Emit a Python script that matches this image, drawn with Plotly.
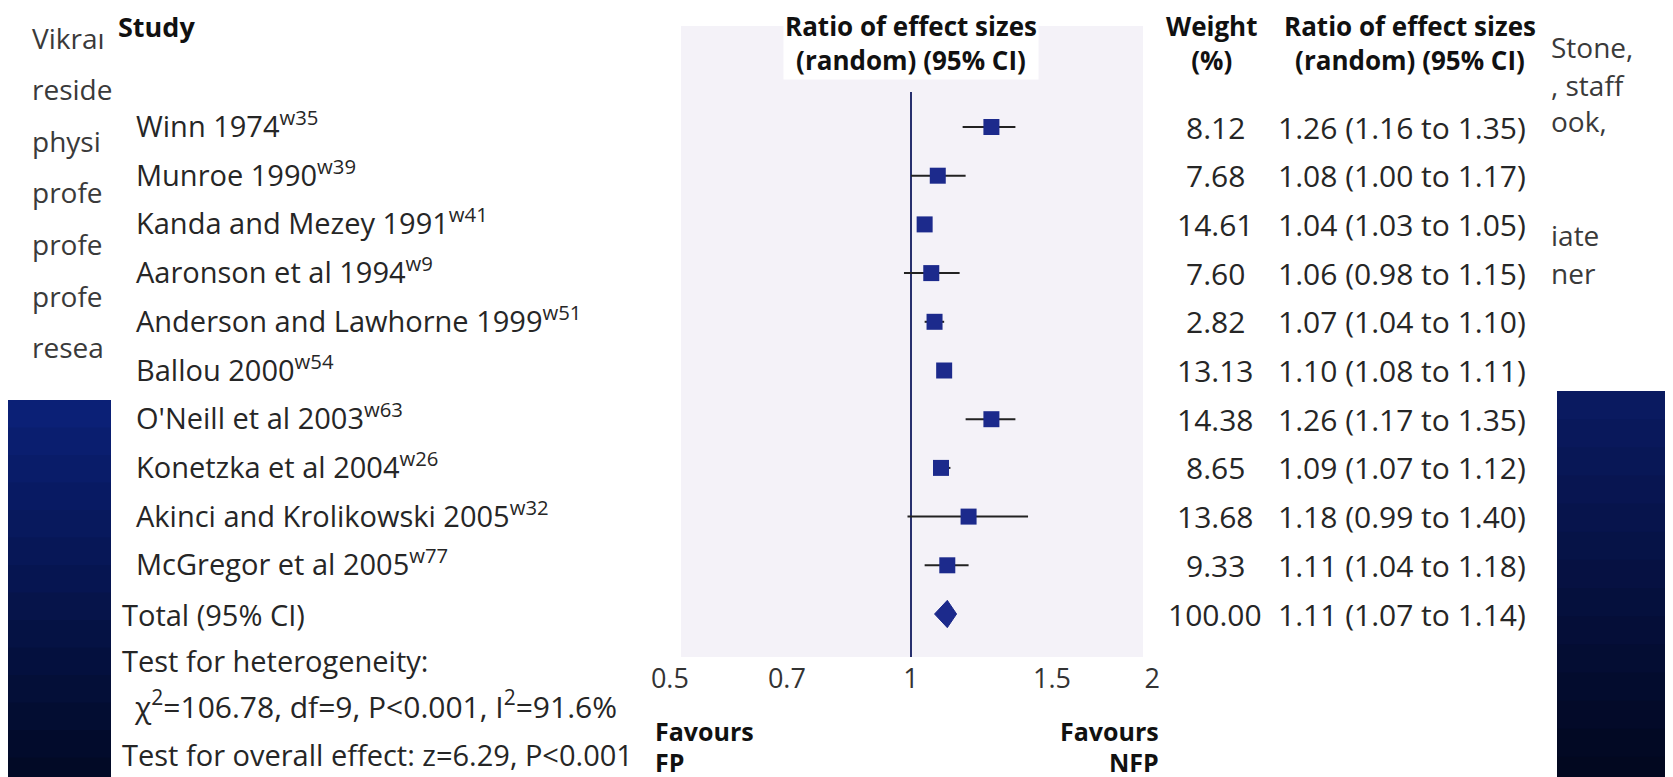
import plotly.graph_objects as go

# ---------------- data ----------------
studies = ["Winn 1974", "Munroe 1990", "Kanda and Mezey 1991", "Aaronson et al 1994",
           "Anderson and Lawhorne 1999", "Ballou 2000", "O'Neill et al 2003",
           "Konetzka et al 2004", "Akinci and Krolikowski 2005", "McGregor et al 2005"]
refs = ["w35", "w39", "w41", "w9", "w51", "w54", "w63", "w26", "w32", "w77"]
weights = [8.12, 7.68, 14.61, 7.60, 2.82, 13.13, 14.38, 8.65, 13.68, 9.33]
ratio = [1.26, 1.08, 1.04, 1.06, 1.07, 1.10, 1.26, 1.09, 1.18, 1.11]
ci_low = [1.16, 1.00, 1.03, 0.98, 1.04, 1.08, 1.17, 1.07, 0.99, 1.04]
ci_high = [1.35, 1.17, 1.05, 1.15, 1.10, 1.11, 1.35, 1.12, 1.40, 1.18]

total_label = "Total (95% CI)"
total_weight = 100.00
total_ratio = 1.11
total_low = 1.07
total_high = 1.14

tick_vals = [0.5, 0.7, 1, 1.5, 2]
tick_labels = ["0.5", "0.7", "1", "1.5", "2"]

header_study = "Study"
header_effect = "Ratio of effect sizes<br>(random) (95% CI)"
header_weight = "Weight<br>(%)"

heterogeneity_title = "Test for heterogeneity:"
heterogeneity = "χ<sup>2</sup>=106.78, df=9, P&lt;0.001, I<sup>2</sup>=91.6%"
overall = "Test for overall effect: z=6.29, P&lt;0.001"

left_fragments = ["Vikraı", "reside", "physi", "profe", "profe", "profe", "resea"]
right_fragments = ["Stone,", ", staff", "ook,", "iate", "ner"]

# ---------------- geometry / style ----------------
W, H = 1673, 777
X_ONE_PX = 903          # pixel of ratio = 1
PX_PER_DEC = 801        # pixels per decade on the log axis
ROW0_PX = 119           # pixel row of the first study
ROW_PX = 48.7           # row spacing

FONT = "Open Sans"
NAVY = "#1c2a8c"
TXT = "#262626"


def px(x):
    return x / W


def py(y):
    return 1 - y / H


xr = [(0 - X_ONE_PX) / PX_PER_DEC, (W - X_ONE_PX) / PX_PER_DEC]
yr = [(H - ROW0_PX) / ROW_PX, (0 - ROW0_PX) / ROW_PX]

rows = list(range(len(studies)))
total_row = len(studies)

fig = go.Figure()

# line of no effect
fig.add_trace(go.Scatter(
    x=[1, 1], y=[(84 - ROW0_PX) / ROW_PX, (649 - ROW0_PX) / ROW_PX],
    mode="lines", line=dict(color="#27306e", width=2), hoverinfo="skip", showlegend=False))

# study estimates with CIs
fig.add_trace(go.Scatter(
    x=ratio, y=rows, mode="markers",
    marker=dict(symbol="square", size=16, color=NAVY),
    error_x=dict(type="data", symmetric=False,
                 array=[h - r for h, r in zip(ci_high, ratio)],
                 arrayminus=[r - l for r, l in zip(ratio, ci_low)],
                 color="#222222", thickness=2, width=0),
    showlegend=False, hoverinfo="skip"))

# pooled diamond
dh = 0.28
fig.add_trace(go.Scatter(
    x=[total_low, total_ratio, total_high, total_ratio, total_low],
    y=[total_row, total_row - dh, total_row, total_row + dh, total_row],
    mode="lines", fill="toself", fillcolor=NAVY, line=dict(color=NAVY, width=1),
    showlegend=False, hoverinfo="skip"))

shapes = []
# shaded plot panel
shapes.append(dict(type="rect", xref="paper", yref="paper", x0=px(673), x1=px(1135),
                   y0=py(649), y1=py(18), fillcolor="#f4f2f8", line=dict(width=0), layer="below"))


def block(x0, x1, y0, y1, top, bottom, n=14):
    def hx(c):
        return [int(c[i:i + 2], 16) for i in (1, 3, 5)]
    a, b = hx(top), hx(bottom)
    for k in range(n):
        t = k / (n - 1)
        c = "#%02x%02x%02x" % tuple(int(a[j] + (b[j] - a[j]) * t) for j in range(3))
        ya = y0 + (y1 - y0) * k / n
        shapes.append(dict(type="rect", xref="paper", yref="paper", x0=px(x0), x1=px(x1),
                           y0=py(y1), y1=py(ya), fillcolor=c, line=dict(width=0), layer="below"))


block(0, 103, 392, 777, "#0b2076", "#020a26")
block(1549, 1673, 383, 777, "#0a1a60", "#020820")

ann = []


def text(t, x, y, size, anchor="left", bold=False, yref="paper", color=TXT, bg=None,
         yshift=0, yanchor="middle"):
    d = dict(text=("<b>%s</b>" % t) if bold else t, x=px(x), y=y, xref="paper", yref=yref,
             xanchor=anchor, yanchor=yanchor, showarrow=False, yshift=yshift,
             font=dict(family=FONT, size=size, color=color), align="center" if anchor == "center" else anchor)
    if bg:
        d["bgcolor"] = bg
    ann.append(d)


# headers (two-line blocks hung from the top edge)
HS = 26
text(header_study, 108, 1.0, 27, bold=True, color="#111", yanchor="top", yshift=2)
text(header_effect.replace("<br>", "</b><br><b>"), X_ONE_PX, 1.0, HS, anchor="center", bold=True,
     color="#111", bg="white", yanchor="top", yshift=2)
text(header_weight.replace("<br>", "</b><br><b>"), 1204, 1.0, HS, anchor="center", bold=True,
     color="#111", yanchor="top", yshift=2)
text(header_effect.replace("<br>", "</b><br><b>"), 1402, 1.0, HS, anchor="center", bold=True,
     color="#111", yanchor="top", yshift=2)

# rows
NS = 29
VS = 30
for i, (s, r) in enumerate(zip(studies, refs)):
    text("%s<sup>%s</sup>" % (s, r), 126, i, NS, yref="y", yshift=3)
    text("%.2f" % weights[i], 1207, i, VS, anchor="center", yref="y")
    text("%.2f (%.2f to %.2f)" % (ratio[i], ci_low[i], ci_high[i]), 1268, i, VS, yref="y")

text(total_label, 112, total_row, NS, yref="y")
text("%.2f" % total_weight, 1207, total_row, VS, anchor="center", yref="y")
text("%.2f (%.2f to %.2f)" % (total_ratio, total_low, total_high), 1268, total_row, VS, yref="y")

# footer statistics
text(heterogeneity_title, 112, py(652), NS)
text(heterogeneity, 124, py(699), 30, yshift=2)
text(overall, 112, py(746), NS)

# favours labels
FS = 25
text("Favours", 645, py(723), FS, bold=True, color="#111")
text("FP", 645, py(754), FS, bold=True, color="#111")
text("Favours", 1153, py(723), FS, anchor="right", bold=True, color="#111")
text("NFP", 1153, py(754), FS, anchor="right", bold=True, color="#111")

# bleed-through page fragments
for k, t in enumerate(left_fragments):
    text(t, 22, py(30 + 51.5 * k), 28, color="#3a3a3a")
for t, yy in zip(right_fragments, [39, 77, 113, 227, 265]):
    text(t, 1541, py(yy), 28, color="#3a3a3a")

fig.update_layout(
    width=W, height=H, margin=dict(l=0, r=0, t=0, b=0),
    paper_bgcolor="white", plot_bgcolor="rgba(0,0,0,0)",
    shapes=shapes, annotations=ann, showlegend=False,
    xaxis=dict(type="log", range=xr, tickvals=tick_vals, ticktext=tick_labels,
               showgrid=False, zeroline=False, showline=False, ticks="",
               anchor="free", position=py(652),
               tickfont=dict(family=FONT, size=27, color="#333")),
    yaxis=dict(range=yr, visible=False, showgrid=False, zeroline=False),
)

fig.write_html("out.html")
